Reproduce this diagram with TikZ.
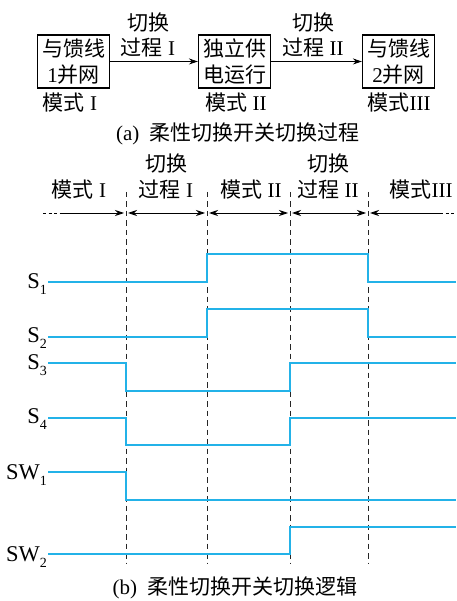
\documentclass[tikz,border=0pt]{standalone}
\usepackage{fontspec}
\setmainfont{Liberation Serif}
\newfontfamily\cjk{Noto Sans CJK SC}
\usetikzlibrary{arrows.meta}
\definecolor{sig}{RGB}{35,178,232}
\newcommand\zhtxt[1]{{\cjk #1}}
\newcommand\sublbl[2]{#1\raisebox{-0.3em}{\fontsize{14}{14}\selectfont #2}}
\begin{document}
\begin{tikzpicture}[x=1pt,y=-1pt,
  every node/.style={font=\fontsize{21}{25.5}\selectfont, inner sep=0pt, align=center},
  boxnode/.style={draw, line width=1.1pt, minimum width=72pt, minimum height=53pt},
  flowarrow/.style={line width=0.9pt, -{Stealth[length=9pt,width=6pt]}},
  hdrarrow/.style={line width=0.9pt, {Stealth[length=9pt,width=6pt]}-{Stealth[length=9pt,width=6pt]}, shorten <=2pt, shorten >=2pt},
  onearrow/.style={line width=0.9pt, -{Stealth[length=9pt,width=6pt]}, shorten >=2pt},
  guide/.style={black!85, line width=0.9pt, dash pattern=on 5.5pt off 4pt},
  wave/.style={sig, line width=1.4pt},
  siglbl/.style={anchor=base east, font=\fontsize{22.5}{24}\selectfont}]
\useasboundingbox (0,0) rectangle (456,601);

% ---- (a) ----
\node[boxnode] (b1) at (73.5,61.5) {\zhtxt{与馈线}\\1\zhtxt{并网}};
\node[boxnode] (b2) at (234.5,61.5) {\zhtxt{独立供}\\\zhtxt{电运行}};
\node[boxnode] (b3) at (398.5,61.5) {\zhtxt{与馈线}\\2\zhtxt{并网}};
\draw[flowarrow] (b1) -- (b2);
\draw[flowarrow] (b2) -- (b3);
\node (t1) at (148,35) {\zhtxt{切换}\\\zhtxt{过程} I};
\node (t2) at (313,35) {\zhtxt{切换}\\\zhtxt{过程} II};
\node (m1) at (70,103) {\zhtxt{模式} I};
\node (m2) at (236,103) {\zhtxt{模式} II};
\node (m3) at (399,103) {\zhtxt{模式}III};
\node (capa) at (238,134) {(a)\ \ \zhtxt{柔性切换开关切换过程}};

% ---- (b) header ----
\node (h1) at (79,190) {\zhtxt{模式} I};
\node (h2) at (166,176.5) {\zhtxt{切换}\\\zhtxt{过程} I};
\node (h3) at (251,190) {\zhtxt{模式} II};
\node (h4) at (328,176.5) {\zhtxt{切换}\\\zhtxt{过程} II};
\node (h5) at (421,190) {\zhtxt{模式}III};

\foreach \i/\x in {1/126,2/207,3/290,4/368}{
  \coordinate (top\i) at (\x,192);
  \coordinate (bot\i) at (\x,563);
  \coordinate (ar\i) at (\x,213);
  \draw[guide] (top\i) -- (bot\i);
}
\coordinate (arL) at (43,213);
\coordinate (arLs) at (60,213);
\coordinate (arR) at (456,213);
\coordinate (arRs) at (440,213);
\draw[line width=0.9pt, dash pattern=on 3pt off 2.5pt] (arL) -- (arLs);
\draw[onearrow] (arLs) -- (ar1);
\draw[hdrarrow] (ar1) -- (ar2);
\draw[hdrarrow] (ar2) -- (ar3);
\draw[hdrarrow] (ar3) -- (ar4);
\draw[onearrow] (arRs) -- (ar4);
\draw[line width=0.9pt, dash pattern=on 3pt off 2.5pt] (arRs) -- (arR);

% ---- waveforms ----
\draw[wave] (48,282) -- (207,282) -- (207,254) -- (368,254) -- (368,282) -- (456,282);
\draw[wave] (48,337) -- (207,337) -- (207,309) -- (368,309) -- (368,337) -- (456,337);
\draw[wave] (48,363) -- (126,363) -- (126,391) -- (290,391) -- (290,363) -- (456,363);
\draw[wave] (48,418) -- (126,418) -- (126,445) -- (290,445) -- (290,418) -- (456,418);
\draw[wave] (48,472) -- (126,472) -- (126,500) -- (456,500);
\draw[wave] (48,554) -- (290,554) -- (290,527) -- (456,527);

\node[siglbl] (l1) at (47,288) {\sublbl{S}{1}};
\node[siglbl] (l2) at (47,342) {\sublbl{S}{2}};
\node[siglbl] (l3) at (47,369) {\sublbl{S}{3}};
\node[siglbl] (l4) at (47,423) {\sublbl{S}{4}};
\node[siglbl] (l5) at (47,479) {\sublbl{SW}{1}};
\node[siglbl] (l6) at (47,561) {\sublbl{SW}{2}};

\node (capb) at (235,588) {(b)\ \ \zhtxt{柔性切换开关切换逻辑}};
\end{tikzpicture}
\end{document}
